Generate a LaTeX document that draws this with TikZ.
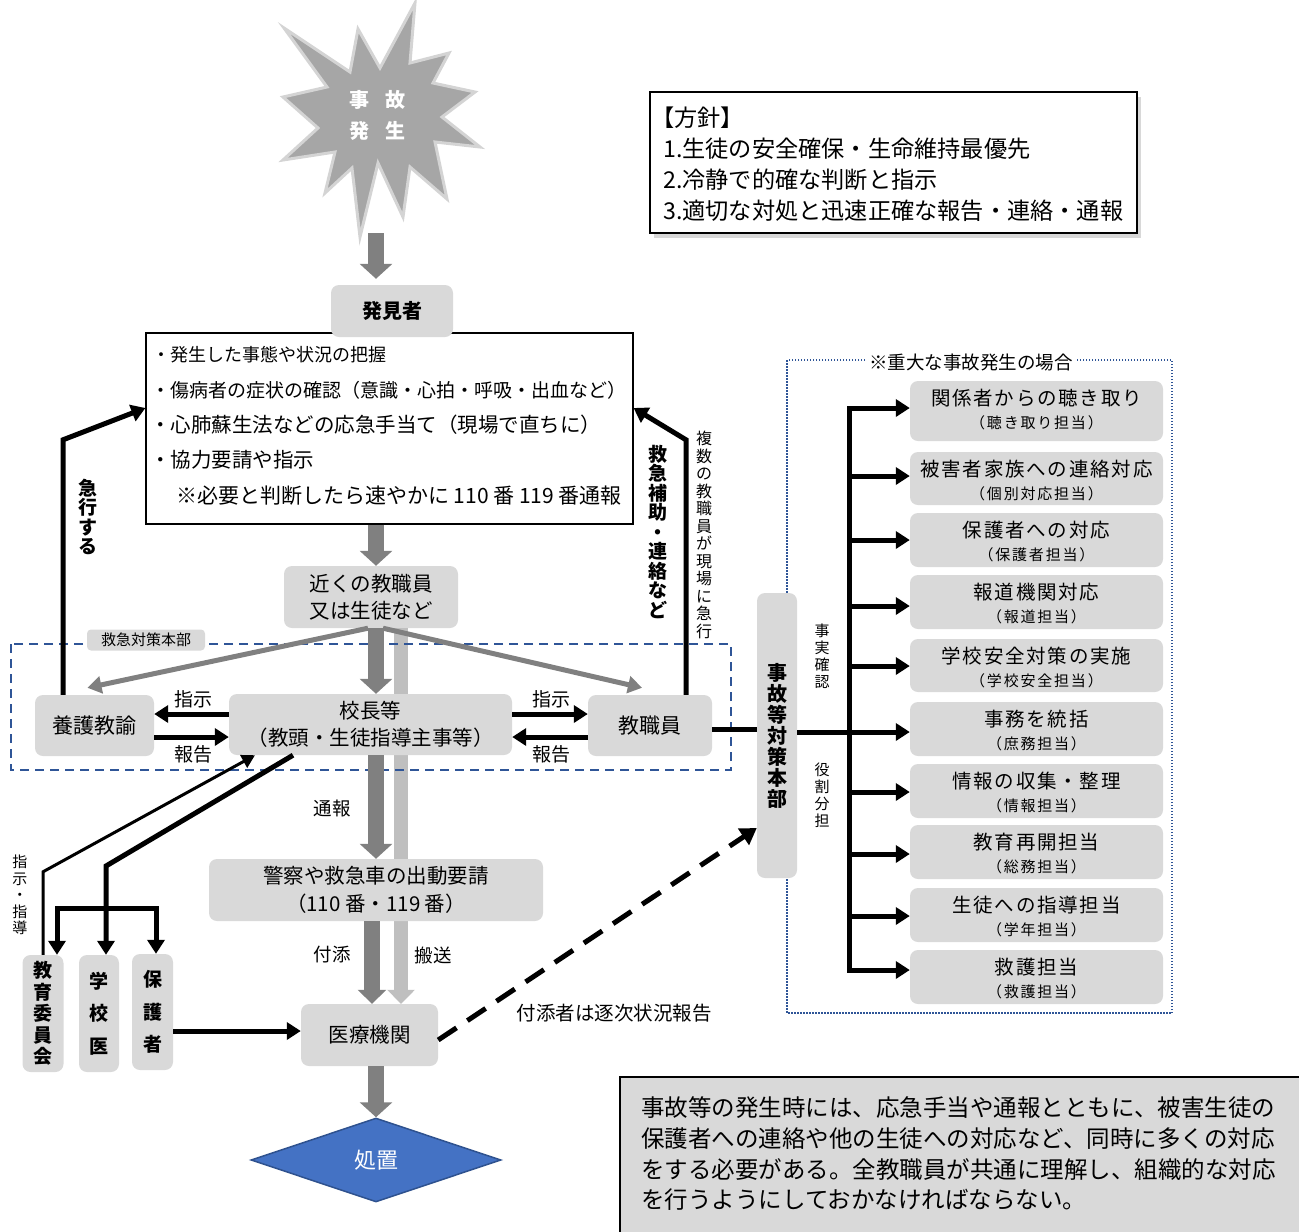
\documentclass[tikz,border=0pt]{standalone}
\usepackage{fontspec}
\setmainfont{Noto Sans CJK JP}
\usetikzlibrary{arrows.meta,shapes.geometric,shadows,calc}
\newcommand\fs[2]{\fontsize{#1}{#2}\selectfont}
\definecolor{boxg}{HTML}{D9D9D9}
\definecolor{darkg}{HTML}{808080}
\definecolor{lightg}{HTML}{BFBFBF}
\definecolor{starg}{HTML}{A6A6A6}
\definecolor{starb}{HTML}{D4D4D4}
\definecolor{dblue}{HTML}{2F5597}
\definecolor{dia}{HTML}{4472C4}
\definecolor{diab}{HTML}{2F528F}
\newcommand\rbox[5]{%
  \node[gbox, minimum width=253pt, minimum height={(#3-#2)*1pt}] (#1) at (1036.5,{(#2+#3)/2}) {};
  \node[rtitle] (#1t) at ($(#1.north)+(0,17)$) {#4};
  \node[rsub] (#1s) at ($(#1.north)+(0,42)$) {#5};
}
\begin{document}
\begin{tikzpicture}[x=1pt,y=-1pt,
  gbox/.style={fill=boxg, rounded corners=8pt, inner sep=0pt, align=center},
  blk/.style={line width=5pt, -{Triangle[length=14pt,width=17pt]}},
  thinblk/.style={line width=3pt, -{Triangle[length=13pt,width=14pt]}},
  garrow/.style={draw=darkg, line width=16pt, -{Triangle[length=15pt,width=32pt]}},
  gthin/.style={draw=darkg, line width=5pt, -{Triangle[length=14pt,width=17pt]}},
  lbl/.style={inner sep=0pt, font=\fs{19}{21}},
  vt/.style={inner sep=0pt, align=center},
  txt/.style={inner sep=0pt, anchor=west},
  rtitle/.style={inner sep=0pt, font=\fs{19.5}{22}\addfontfeature{LetterSpace=9}},
  rsub/.style={inner sep=0pt, font=\fs{15}{17}\addfontfeature{LetterSpace=12}},
]
\useasboundingbox (0,0) rectangle (1299,1232);
\clip (0,0) rectangle (1299,1232);

% coordinates
\coordinate (cx) at (376,0);
\coordinate (lx) at (401,0);
\coordinate (fx) at (372,0);
\coordinate (yA) at (0,714);
\coordinate (yB) at (0,737);
\coordinate (yK) at (0,408);
\coordinate (y729) at (0,729);
\coordinate (y732) at (0,732);
\coordinate (y1031) at (0,1031);
\coordinate (starbot) at (376,233);
\coordinate (lb1) at (106,866);
\coordinate (lbl) at (57,908);
\coordinate (lbr) at (156,908);

% star
\fill[starg, draw=starb, line width=3pt, line join=miter]
 (415,3) -- (410,63) -- (449,53) -- (433,83) -- (475,92) -- (442,117) -- (480,147)
 -- (435,142) -- (447,199) -- (410,167) -- (403,217) -- (378,163) -- (360,237)
 -- (352,168) -- (325,193) -- (335,152) -- (283,160) -- (318,128) -- (283,97)
 -- (327,87) -- (284,28) -- (350,72) -- (358,29) -- (380,68) -- cycle;
\node[vt, text=white, font=\fs{20}{31}\bfseries] (startext) at (377,115) {事\hspace{16pt}故\\発\hspace{16pt}生};

% policy box
\node[draw, line width=2.5pt, fill=white, inner sep=0pt, minimum width=487pt, minimum height=141pt,
  drop shadow={shadow xshift=4pt, shadow yshift=-5pt, fill=black!30}] (hoshin) at (893.5,162.5) {};
\node[txt, font=\fs{23.2}{25}] (h0) at (651,118) {【方針】};
\node[txt, font=\fs{23.2}{25}] (h1) at (663,149) {1.生徒の安全確保・生命維持最優先};
\node[txt, font=\fs{23.2}{25}] (h2) at (663,180) {2.冷静で的確な判断と指示};
\node[txt, font=\fs{23.2}{25}] (h3) at (663,211) {3.適切な対処と迅速正確な報告・連絡・通報};

% background bars and frames
\node[draw, line width=1.2pt, fill=white, minimum width=487pt, minimum height=191pt, inner sep=0pt] (content) at (389.5,428.5) {};
\node[gbox, minimum width=174pt, minimum height=62pt, font=\fs{20.5}{27}] (chikaku) at (371,597) {近くの教職員\\又は生徒など};
\node[gbox, minimum width=137pt, minimum height=62pt, font=\fs{20.5}{24}] (iryo) at (369.5,1035) {医療機関};
\draw[draw=lightg, line width=14pt, -{Triangle[length=14pt,width=27pt]}] (chikaku.south -| lx) -- (iryo.north -| lx);
\draw[dblue, line width=1.5pt, dash pattern=on 9pt off 6pt] (11,644) rectangle (731,770);
\draw[dblue, line width=1.5pt, dash pattern=on 1.5pt off 1.5pt] (787,360) rectangle (1172,1013);

% content text
\node[txt, font=\fs{18}{20}] (c1) at (152,355) {・発生した事態や状況の把握};
\node[txt, font=\fs{19}{21}] (c2) at (151,390) {・傷病者の症状の確認（意識・心拍・呼吸・出血など）};
\node[txt, font=\fs{20.5}{22}] (c3) at (150,425) {・心肺蘇生法などの応急手当て（現場で直ちに）};
\node[txt, font=\fs{20.5}{22}] (c4) at (150,460) {・協力要請や指示};
\node[txt, font=\fs{21}{22}] (c5) at (176,496) {※必要と判断したら速やかに 110 番 119 番通報};

% main boxes
\node[gbox, minimum width=122pt, minimum height=52pt, font=\fs{20}{24}\bfseries] (hakken) at (392,311) {発見者};
\node[gbox, rounded corners=4pt, minimum width=118pt, minimum height=21pt, font=\fs{15}{17}] (kklabel) at (146,640) {救急対策本部};
\node[gbox, minimum width=283pt, minimum height=61pt, font=\fs{20.5}{27}] (kocho) at (370.5,724.5) {校長等\\（教頭・生徒指導主事等）};
\node[gbox, minimum width=119pt, minimum height=61pt, font=\fs{21}{24}] (yogo) at (94.5,725.5) {養護教諭};
\node[gbox, minimum width=124pt, minimum height=61pt, font=\fs{21}{24}] (kyoshoku) at (650,725.5) {教職員};
\node[gbox, minimum width=40pt, minimum height=285pt, font=\fs{20}{21}\bfseries] (honbu) at (777,735.5) {事\\故\\等\\対\\策\\本\\部};
\node[gbox, minimum width=334pt, minimum height=62pt, font=\fs{20.5}{28}] (keisatsu) at (376,890) {警察や救急車の出動要請\\（110 番・119 番）};
\node[diamond, fill=dia, draw=diab, line width=1.5pt, minimum width=250pt, minimum height=84pt, inner sep=0pt, text=white, font=\fs{22}{24}] (shochi) at (376,1160) {処置};
\node[gbox, minimum width=41pt, minimum height=117pt, font=\fs{19}{21.5}\bfseries] (kyoiku) at (43,1013.5) {教\\育\\委\\員\\会};
\node[gbox, minimum width=40pt, minimum height=117pt, font=\fs{19}{32.5}\bfseries] (gakkoi) at (99,1013.5) {学\\校\\医};
\node[gbox, minimum width=41pt, minimum height=116pt, font=\fs{19}{32.5}\bfseries] (hogosha) at (152.5,1012) {保\\護\\者};

% right side boxes
\node[fill=white, inner sep=2pt, font=\fs{18.5}{20}] (jlabel) at (971,363) {※重大な事故発生の場合};
\rbox{r1}{381}{441}{関係者からの聴き取り}{（聴き取り担当）}
\rbox{r2}{452}{505}{被害者家族への連絡対応}{（個別対応担当）}
\rbox{r3}{513}{567}{保護者への対応}{（保護者担当）}
\rbox{r4}{575}{629}{報道機関対応}{（報道担当）}
\rbox{r5}{639}{692}{学校安全対策の実施}{（学校安全担当）}
\rbox{r6}{702}{756}{事務を統括}{（庶務担当）}
\rbox{r7}{764}{818}{情報の収集・整理}{（情報担当）}
\rbox{r8}{825}{879}{教育再開担当}{（総務担当）}
\rbox{r9}{888}{942}{生徒への指導担当}{（学年担当）}
\rbox{r10}{950}{1004}{救護担当}{（救護担当）}

% summary box
\node[draw, line width=2pt, fill=boxg, minimum width=683pt, minimum height=158pt, inner sep=0pt] (summary) at (961,1156) {};
\node[txt, font=\fs{23.5}{25}] (s1) at (641,1108) {事故等の発生時には、応急手当や通報とともに、被害生徒の};
\node[txt, font=\fs{23.5}{25}] (s2) at (641,1139) {保護者への連絡や他の生徒への対応など、同時に多くの対応};
\node[txt, font=\fs{23.5}{25}] (s3) at (641,1170) {をする必要がある。全教職員が共通に理解し、組織的な対応};
\node[txt, font=\fs{23.5}{25}] (s4) at (641,1200) {を行うようにしておかなければならない。};

% grey flow arrows
\draw[garrow] (starbot) -- ([yshift=6pt]hakken.north -| cx);
\draw[garrow] (content.south -| cx) -- (chikaku.north -| cx);
\draw[garrow] (chikaku.south -| cx) -- (kocho.north -| cx);
\draw[garrow] (kocho.south -| cx) -- (keisatsu.north -| cx);
\draw[draw=darkg, line width=16pt, -{Triangle[length=14pt,width=28pt]}] (keisatsu.south -| fx) -- (iryo.north -| fx);
\draw[garrow] (iryo.south -| cx) -- (shochi.north -| cx);
\draw[gthin] ([xshift=-3pt]chikaku.south) -- ([shift={(-7,-7)}]yogo.north);
\draw[gthin] ([xshift=12pt]chikaku.south) -- ([shift={(-8,-7)}]kyoshoku.north);

% black arrows
\draw[blk] (kocho.west |- yA) -- (yogo.east |- yA);
\draw[blk] (yogo.east |- yB) -- (kocho.west |- yB);
\draw[blk] (kocho.east |- yA) -- (kyoshoku.west |- yA);
\draw[blk] (kyoshoku.west |- yB) -- (kocho.east |- yB);
\draw[blk, line join=miter] ([xshift=-31.5pt]yogo.north) -- ++(0,-255) -- (content.west |- yK);
\draw[blk, line join=miter] ([xshift=36pt]kyoshoku.north) -- ++(0,-255) -- (content.east |- yK);
\draw[line width=5pt] (kyoshoku.east |- y729) -- (honbu.west |- y729);
\draw[blk] (honbu.east |- y732) -- (r6.west |- y732);
\coordinate (bt) at (849,408);
\coordinate (bb) at (849,970);
\draw[line width=5pt, line cap=rect] (bt) -- (bb);
\foreach \i/\yy in {1/408,2/476,3/540,4/606,5/666,7/792,8/854,9/916,10/970}{
  \coordinate (b\i) at (849,\yy);
  \draw[blk] (b\i) -- (r\i.west |- b\i);
}
\draw[thinblk, line join=miter] (kyoiku.north) -- ++(0,-83) -- ([xshift=-115.5pt]kocho.south);
\draw[blk, line join=miter] ([xshift=-77.5pt]kocho.south) -- (lb1) -- (gakkoi.north -| lb1);
\draw[line width=5pt, line cap=rect] (lbl) -- (lbr);
\draw[blk] (lbl) -- (kyoiku.north -| lbl);
\draw[blk] (lbr) -- (hogosha.north -| lbr);
\draw[blk] (hogosha.east |- y1031) -- (iryo.west |- y1031);
\draw[line width=5pt, dash pattern=on 22pt off 13pt, -{Triangle[length=16pt,width=19pt]}] ([yshift=-5pt]iryo.east) -- ([yshift=-92.5pt]honbu.west);

% labels
\node[lbl] (l1) at (193,699) {指示};
\node[lbl] (l2) at (193,754) {報告};
\node[lbl] (l3) at (551,699) {指示};
\node[lbl] (l4) at (551,754) {報告};
\node[lbl, font=\fs{18.5}{20}] (l5) at (332,808) {通報};
\node[lbl, font=\fs{18.5}{20}] (l6) at (332,955) {付添};
\node[lbl, font=\fs{18.5}{20}] (l7) at (433,955) {搬送};
\node[lbl, font=\fs{19.5}{21}] (l8) at (614,1013) {付添者は逐次状況報告};
\node[vt, font=\fs{19}{19.5}\bfseries] (v1) at (88,517) {急\\行\\す\\る};
\node[vt, font=\fs{19}{19.5}\bfseries] (v2) at (658,532) {救\\急\\補\\助\\・\\連\\絡\\な\\ど};
\node[vt, font=\fs{16}{17.5}] (v3) at (704,535) {複\\数\\の\\教\\職\\員\\が\\現\\場\\に\\急\\行};
\node[vt, font=\fs{15}{17}] (v4) at (822,656) {事\\実\\確\\認};
\node[vt, font=\fs{15}{17}] (v5) at (822,795) {役\\割\\分\\担};
\node[vt, font=\fs{15}{16.5}] (v6) at (20,895) {指\\示\\・\\指\\導};
\end{tikzpicture}
\end{document}
